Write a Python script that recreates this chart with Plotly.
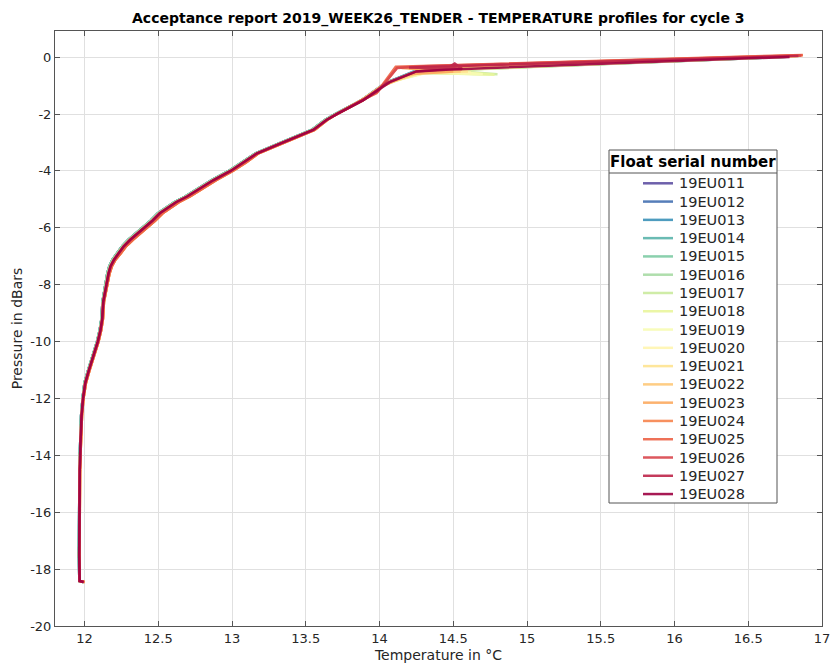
import plotly.graph_objects as go
from plotly.colors import sample_colorscale

# ---- Float identifiers (cycle 3 acceptance report) ----
float_ids = ["19EU011", "19EU012", "19EU013", "19EU014", "19EU015", "19EU016",
             "19EU017", "19EU018", "19EU019", "19EU020", "19EU021", "19EU022",
             "19EU023", "19EU024", "19EU025", "19EU026", "19EU027", "19EU028"]

# ---- Profile body: shared pressure levels (dBar, plotted negative) ----
body_pressure = [-18.45, -18.42, -17.5, -16.0, -14.5, -13.7, -12.6, -12.0, -11.45, -11.0,
                 -10.5, -10.0, -9.6, -9.2, -8.6, -8.0, -7.6, -7.36, -7.12, -6.9,
                 -6.65, -6.42, -6.2, -6.0, -5.75, -5.49, -5.31, -5.1, -4.9, -4.6,
                 -4.32, -4.0, -3.7, -3.38, -3.03, -2.8, -2.56, -2.21, -2.0, -1.51]

# temperature (degC) on the body levels, three slightly different groups
body_temp_cool = [11.990, 11.965, 11.962, 11.963, 11.966, 11.970, 11.977, 11.987, 12.000, 12.025,
                  12.055, 12.085, 12.103, 12.115, 12.122, 12.140, 12.155, 12.168, 12.190, 12.220,
                  12.255, 12.298, 12.348, 12.398, 12.448, 12.498, 12.548, 12.608, 12.683, 12.773,
                  12.863, 12.978, 13.070, 13.160, 13.320, 13.430, 13.540, 13.630, 13.700, 13.880]
body_temp_mid = [11.994, 11.967, 11.964, 11.965, 11.968, 11.972, 11.980, 11.990, 12.005, 12.030,
                 12.060, 12.090, 12.108, 12.120, 12.127, 12.147, 12.163, 12.176, 12.200, 12.230,
                 12.266, 12.310, 12.360, 12.410, 12.460, 12.510, 12.560, 12.620, 12.695, 12.785,
                 12.875, 12.990, 13.080, 13.170, 13.330, 13.440, 13.550, 13.640, 13.710, 13.890]
body_temp_warm = [12.000, 11.968, 11.966, 11.967, 11.970, 11.975, 11.983, 11.993, 12.010, 12.035,
                  12.065, 12.095, 12.113, 12.125, 12.132, 12.152, 12.170, 12.185, 12.210, 12.245,
                  12.282, 12.328, 12.378, 12.428, 12.478, 12.530, 12.580, 12.640, 12.715, 12.805,
                  12.895, 13.005, 13.095, 13.180, 13.340, 13.450, 13.560, 13.645, 13.710, 13.880]
body_group = ["cool", "cool", "cool", "cool", "cool", "cool",
              "mid", "mid", "mid", "mid", "warm", "warm",
              "warm", "warm", "warm", "mid", "mid", "mid"]

# ---- Near-surface part of each profile (pressure, temperature) ----
tail_pressure = [
    [-0.90, -0.50, -0.45, 0.02],
    [-0.90, -0.52, -0.44, 0.03],
    [-0.92, -0.50, -0.46, 0.02],
    [-0.88, -0.50, -0.43, 0.04],
    [-0.90, -0.51, -0.44, 0.03],
    [-0.90, -0.50, -0.45, 0.02],
    [-0.90, -0.56, -0.57, -0.60, -0.46, 0.03],
    [-0.90, -0.55, -0.58, -0.62, -0.47, 0.02],
    [-0.90, -0.55, -0.60, -0.45, 0.03],
    [-0.90, -0.53, -0.55, -0.44, 0.04],
    [-1.00, -0.55, -0.50, -0.42, 0.05],
    [-1.00, -0.55, -0.50, -0.40, 0.05],
    [-1.05, -0.60, -0.50, -0.38, 0.06],
    [-1.27, -0.36, 0.07],
    [-1.25, -0.34, 0.08],
    [-1.20, -0.38, -0.32, 0.06],
    [-0.90, -0.50, -0.42, -0.22, -0.42, -0.36, 0.04],
    [-0.88, -0.50, -0.44, 0.01],
]
tail_temperature = [
    [14.04, 14.24, 14.44, 16.80],
    [14.05, 14.25, 14.46, 16.82],
    [14.04, 14.23, 14.43, 16.81],
    [14.05, 14.26, 14.47, 16.83],
    [14.05, 14.26, 14.45, 16.82],
    [14.05, 14.24, 14.44, 16.80],
    [14.05, 14.30, 14.60, 14.80, 14.45, 16.82],
    [14.04, 14.28, 14.55, 14.78, 14.44, 16.81],
    [14.05, 14.32, 14.70, 14.40, 16.83],
    [14.05, 14.30, 14.62, 14.42, 16.84],
    [14.02, 14.27, 14.60, 14.30, 16.85],
    [14.02, 14.25, 14.55, 14.20, 16.85],
    [14.01, 14.20, 14.50, 14.15, 16.86],
    [13.98, 14.12, 16.87],
    [13.98, 14.11, 16.87],
    [13.99, 14.12, 14.30, 16.86],
    [14.05, 14.25, 14.45, 14.51, 14.56, 14.20, 16.84],
    [14.07, 14.25, 14.45, 16.78],
]

# ---- Axis ticks ----
x_ticks = [12, 12.5, 13, 13.5, 14, 14.5, 15, 15.5, 16, 16.5, 17]
x_tick_labels = ["12", "12.5", "13", "13.5", "14", "14.5", "15", "15.5", "16", "16.5", "17"]
y_ticks = [0, -2, -4, -6, -8, -10, -12, -14, -16, -18, -20]
y_tick_labels = ["0", "-2", "-4", "-6", "-8", "-10", "-12", "-14", "-16", "-18", "-20"]

# ---- Figure geometry (pixels) ----
W, H = 830, 663
ML, MR, MT, MB = 55, 8, 31, 37
PW, PH = W - ML - MR, H - MT - MB

FONT = "DejaVu Sans, Liberation Sans, sans-serif"
INK = "#262626"

colors = sample_colorscale("Spectral_r", len(float_ids))
body_by_group = {"cool": body_temp_cool, "mid": body_temp_mid, "warm": body_temp_warm}

fig = go.Figure()
for i, fid in enumerate(float_ids):
    temps = body_by_group[body_group[i]] + tail_temperature[i]
    pres = body_pressure + tail_pressure[i]
    fig.add_trace(go.Scatter(
        x=temps, y=pres, mode="lines", name=fid, showlegend=False,
        line=dict(color=colors[i], width=2.5), opacity=0.9,
    ))

axis_common = dict(
    automargin=False, ticklabeloverflow="allow",
    showline=True, linecolor="#555555", linewidth=1, mirror="ticks",
    ticks="inside", ticklen=5, tickwidth=1, tickcolor="#555555",
    showgrid=True, gridcolor="#e0e0e0", gridwidth=1, zeroline=False,
    tickfont=dict(family=FONT, size=13, color=INK),
)
fig.update_xaxes(
    range=[11.8, 17], tickvals=x_ticks, ticktext=x_tick_labels,
    title=dict(text="Temperature in °C", font=dict(family=FONT, size=14, color=INK), standoff=6),
    **axis_common,
)
fig.update_yaxes(
    range=[-20, 0.92], tickvals=y_ticks, ticktext=y_tick_labels,
    title=dict(text="Pressure in dBars", font=dict(family=FONT, size=14, color=INK), standoff=4),
    **axis_common,
)


def px_x(px):
    return (px - ML) / PW


def px_y(py):
    return (H - MB - py) / PH


annotations = [dict(
    text="<b>Acceptance report 2019_WEEK26_TENDER - TEMPERATURE profiles for cycle 3</b>",
    x=0.5, y=px_y(18), xref="paper", yref="paper", xanchor="center", yanchor="middle",
    showarrow=False, font=dict(family=FONT, size=14, color="#000000"),
)]
shapes = []

# ---- Legend box: "Float serial number" ----
box_l, box_r, box_t, box_b = 609, 777, 150, 503
shapes.append(dict(type="rect", xref="paper", yref="paper",
                   x0=px_x(box_l), x1=px_x(box_r), y0=px_y(box_b), y1=px_y(box_t),
                   line=dict(color="#555555", width=1), fillcolor="white", layer="above"))
shapes.append(dict(type="line", xref="paper", yref="paper",
                   x0=px_x(box_l), x1=px_x(box_r), y0=px_y(173), y1=px_y(173),
                   line=dict(color="#555555", width=1), layer="above"))
annotations.append(dict(
    text="<b>Float serial number</b>", x=px_x((box_l + box_r) / 2), y=px_y(161.5),
    xref="paper", yref="paper", xanchor="center", yanchor="middle", showarrow=False,
    font=dict(family=FONT, size=15, color="#000000"),
))
first_row, row_step = 183.3, 18.28
for i, fid in enumerate(float_ids):
    yy = first_row + i * row_step
    shapes.append(dict(type="line", xref="paper", yref="paper",
                       x0=px_x(643), x1=px_x(673), y0=px_y(yy), y1=px_y(yy),
                       line=dict(color=colors[i], width=2.5), opacity=0.9, layer="above"))
    annotations.append(dict(
        text=fid, x=px_x(677), y=px_y(yy), xref="paper", yref="paper",
        xanchor="left", yanchor="middle", showarrow=False,
        font=dict(family=FONT, size=14.5, color=INK),
    ))

fig.update_layout(
    template="none",
    width=W, height=H, autosize=False,
    margin=dict(l=ML, r=MR, t=MT, b=MB, pad=0),
    paper_bgcolor="white", plot_bgcolor="white",
    annotations=annotations, shapes=shapes, showlegend=False,
)

fig.write_html("out.html")
